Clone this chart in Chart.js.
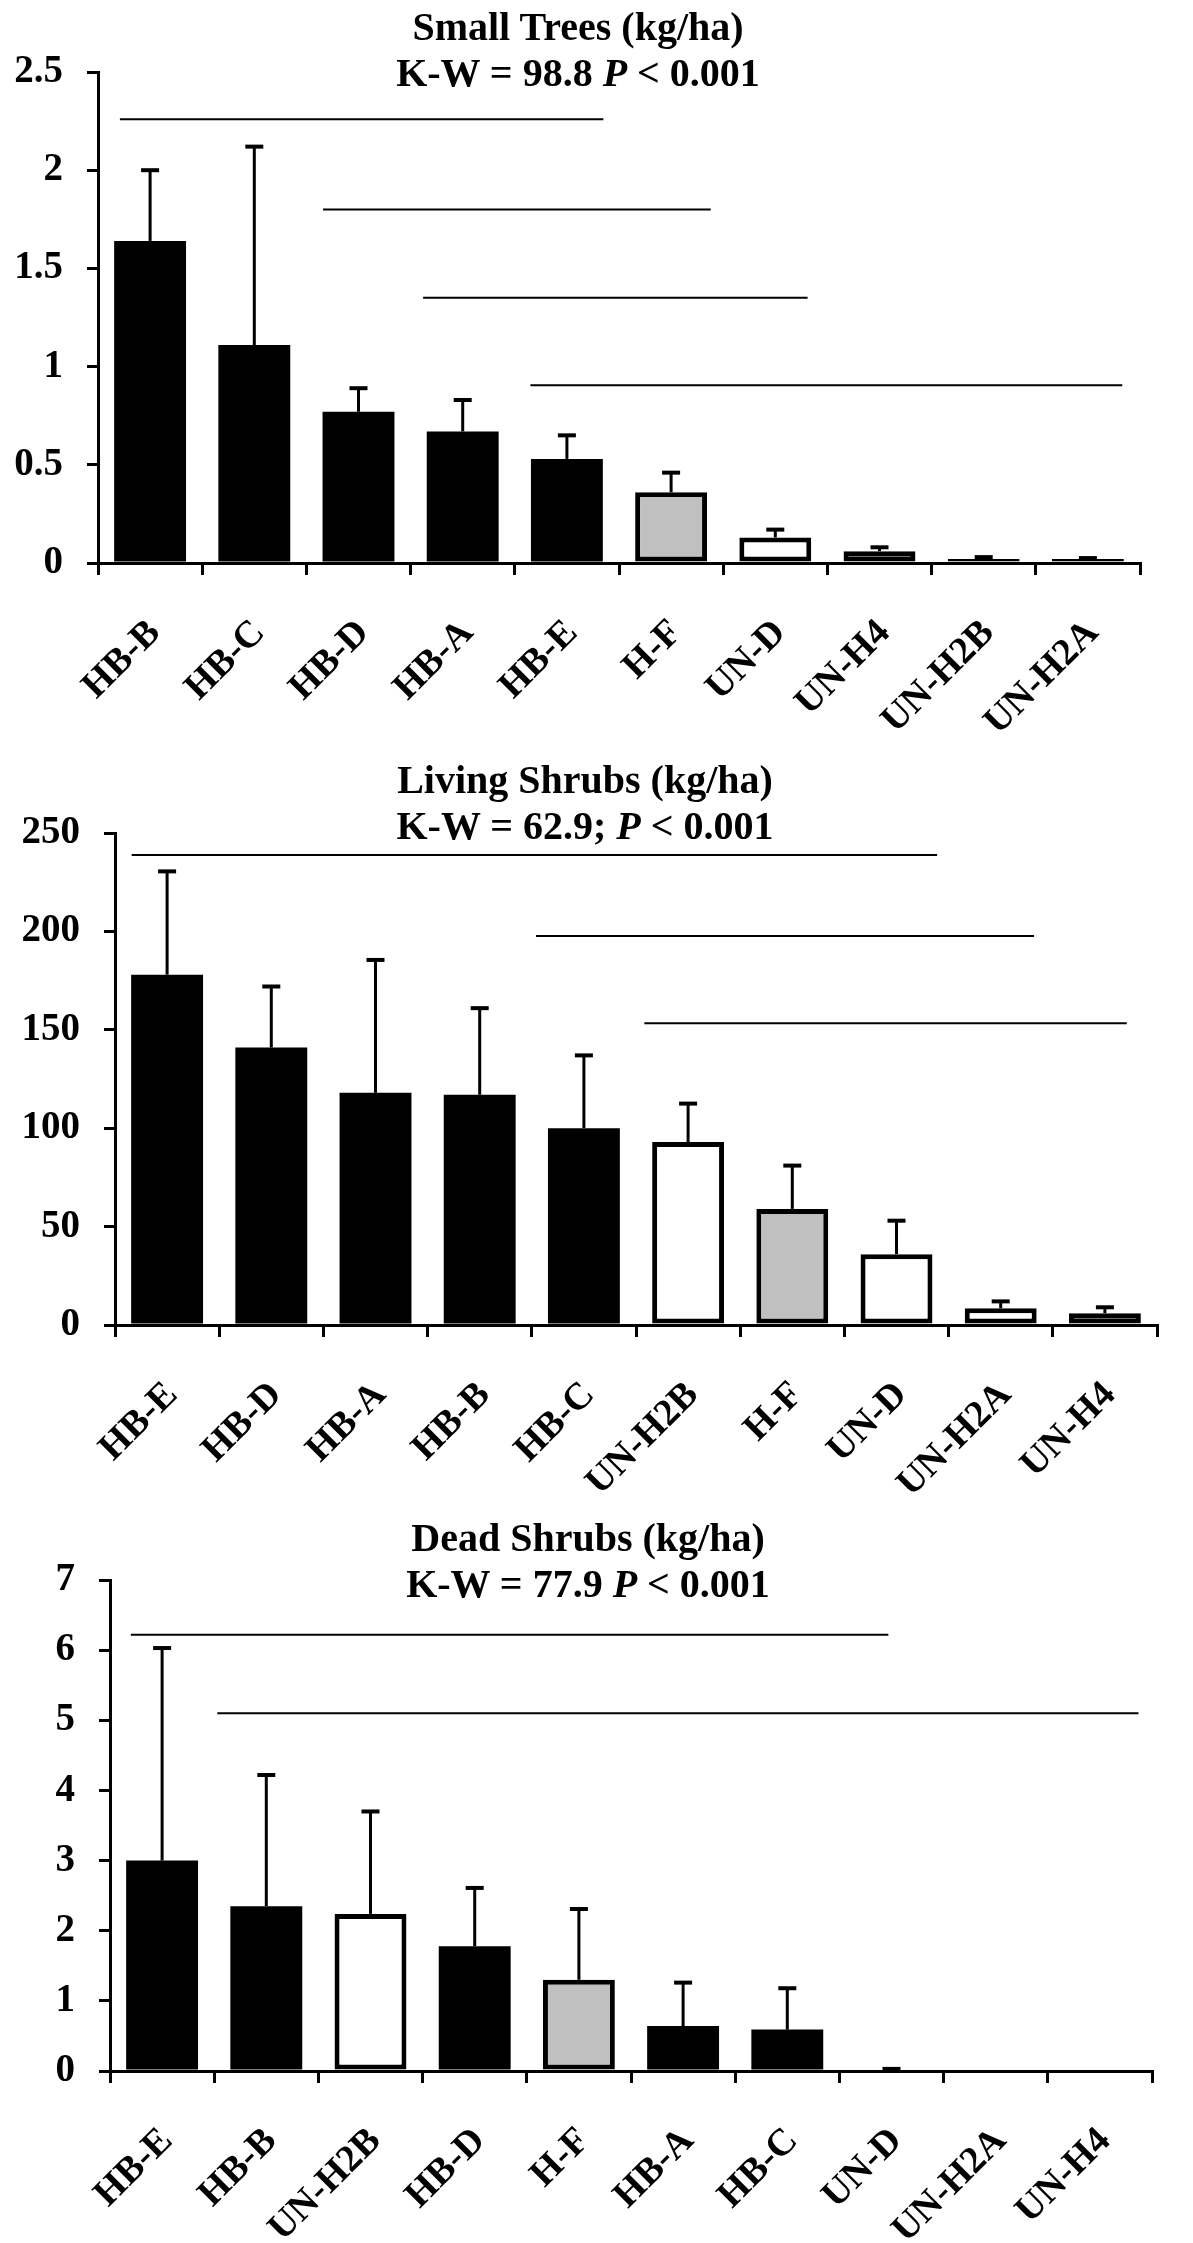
<!DOCTYPE html>
<html>
<head>
<meta charset="utf-8">
<script src="https://cdn.jsdelivr.net/npm/chart.js@4.4.1/dist/chart.umd.min.js"></script>
<style>
  body { margin: 0; background: #fff; width: 1193px; height: 2243px; position: relative; overflow: hidden; }
  .panel { position: absolute; left: 0; width: 1193px; }
  .panel canvas { position: absolute; left: 0; top: 0; }
  .ttl { position: absolute; left: 0; width: 1170px; text-align: center; color: #000;
         font-family: 'Liberation Serif', 'Times New Roman', serif; font-weight: bold;
         font-size: 40px; line-height: 46px; }
</style>
</head>
<body>

<div class="panel" style="top:0px;height:740px">
  <canvas id="treesChart" width="1193" height="740"></canvas>
  <div class="ttl" style="top:4px;width:1156px">Small Trees (kg/ha)<br>K-W = 98.8 <i>P</i> &lt; 0.001</div>
</div>

<div class="panel" style="top:740px;height:760px">
  <canvas id="livingChart" width="1193" height="760"></canvas>
  <div class="ttl" style="top:17px">Living Shrubs (kg/ha)<br>K-W = 62.9; <i>P</i> &lt; 0.001</div>
</div>

<div class="panel" style="top:1500px;height:743px">
  <canvas id="deadChart" width="1193" height="743"></canvas>
  <div class="ttl" style="top:15px;width:1176px">Dead Shrubs (kg/ha)<br>K-W = 77.9 <i>P</i> &lt; 0.001</div>
</div>

<script>
// ---- Small trees ----
const treeSites = ["HB-B", "HB-C", "HB-D", "HB-A", "HB-E", "H-F", "UN-D", "UN-H4", "UN-H2B", "UN-H2A"];
const treeMeans = [1.64, 1.11, 0.77, 0.67, 0.53, 0.36, 0.13, 0.06, 0.02, 0.02];
const treeErrors = [0.36, 1.01, 0.12, 0.16, 0.12, 0.10, 0.04, 0.02, 0.01, 0.005];
const treeTicks = [0, 0.5, 1, 1.5, 2, 2.5];
// homogeneous groups: [from site index, to site index, level]
const treeGroups = [[-0.29, 4.35, 2.26], [1.66, 5.38, 1.80], [2.62, 6.31, 1.35], [3.65, 9.33, 0.905]];

// ---- Living shrubs ----
const livingSites = ["HB-E", "HB-D", "HB-A", "HB-B", "HB-C", "UN-H2B", "H-F", "UN-D", "UN-H2A", "UN-H4"];
const livingMeans = [178, 141, 118, 117, 100, 93, 59, 36, 8.5, 6];
const livingErrors = [52.5, 31, 67.5, 44, 37, 19.5, 22, 17, 3.5, 3];
const livingTicks = [0, 50, 100, 150, 200, 250];
const livingGroups = [[-0.34, 7.39, 238.8], [3.54, 8.32, 197.6], [4.58, 9.21, 153.3]];

// ---- Dead shrubs ----
const deadSites = ["HB-E", "HB-B", "UN-H2B", "HB-D", "H-F", "HB-A", "HB-C", "UN-D", "UN-H2A", "UN-H4"];
const deadMeans = [3.0, 2.35, 2.24, 1.78, 1.30, 0.64, 0.59, 0.02, 0, 0];
const deadErrors = [3.03, 1.87, 1.46, 0.83, 1.01, 0.62, 0.59, 0.01, 0, 0];
const deadTicks = [0, 1, 2, 3, 4, 5, 6, 7];
const deadGroups = [[-0.30, 6.97, 6.22], [0.53, 9.37, 5.10]];

const serif = "'Liberation Serif', 'Times New Roman', serif";

function fillFor(site) {
    if (site.startsWith('HB')) return '#000';
    if (site.startsWith('H-')) return '#c0c0c0';
    return '#fff';
}

// error bars + group lines, placed with the chart's own scales
const extras = {
    id: 'extras',
    afterDatasetsDraw(chart) {
        const ctx = chart.ctx;
        const xScale = chart.scales.x;
        const yScale = chart.scales.y;
        const ds = chart.data.datasets[0];
        const bars = chart.getDatasetMeta(0).data;
        ctx.save();
        ctx.strokeStyle = '#000';

        // horizontal lines joining groups that do not differ
        ctx.lineWidth = 2;
        ds.groups.forEach(function(g) {
            const y = yScale.getPixelForValue(g[2]);
            ctx.beginPath();
            ctx.moveTo(xScale.getPixelForValue(g[0]), y);
            ctx.lineTo(xScale.getPixelForValue(g[1]), y);
            ctx.stroke();
        });

        bars.forEach(function(bar, i) {
            const err = ds.errors[i];
            if (!err) return;
            const top = yScale.getPixelForValue(ds.data[i] + err);
            ctx.lineWidth = 3;
            ctx.beginPath();
            ctx.moveTo(bar.x, bar.y);
            ctx.lineTo(bar.x, top);
            ctx.stroke();
            ctx.lineWidth = 4;
            ctx.beginPath();
            ctx.moveTo(bar.x - 9, top);
            ctx.lineTo(bar.x + 9, top);
            ctx.stroke();
        });
        ctx.restore();
    }
};

function makeChart(canvasId, sites, means, errors, yTicks, groups, box) {
    const canvas = document.getElementById(canvasId);
    return new Chart(canvas, {
        type: 'bar',
        data: {
            labels: sites,
            datasets: [{
                data: means,
                errors: errors,
                groups: groups,
                backgroundColor: sites.map(fillFor),
                borderColor: '#000',
                borderWidth: sites.map(s => s.startsWith('HB') ? 0 : 5),
                borderSkipped: false,
                grouped: false,
                barPercentage: 0.69,
                categoryPercentage: 1.0
            }]
        },
        options: {
            responsive: false,
            animation: false,
            layout: { padding: { left: 0, top: box.top, right: canvas.width - box.right, bottom: 0 } },
            plugins: {
                legend: { display: false },
                tooltip: { enabled: false }
            },
            scales: {
                x: {
                    type: 'category',
                    offset: true,
                    grid: { offset: true, drawOnChartArea: false, drawTicks: true, tickLength: 12, lineWidth: 3, color: '#000' },
                    border: { display: true, color: '#000', width: 3 },
                    ticks: {
                        color: '#000',
                        font: { family: serif, size: 38, weight: 'bold' },
                        minRotation: 45,
                        maxRotation: 45,
                        autoSkip: false,
                        labelOffset: 5,
                        padding: 36
                    },
                    afterFit: function(s) { s.height = canvas.height - box.bottom; }
                },
                y: {
                    min: 0,
                    max: yTicks[yTicks.length - 1],
                    afterBuildTicks: function(s) { s.ticks = yTicks.map(v => ({ value: v })); },
                    grid: { drawOnChartArea: false, drawTicks: true, tickLength: 11, lineWidth: 3, color: '#000' },
                    border: { display: true, color: '#000', width: 3 },
                    ticks: {
                        color: '#000',
                        font: { family: serif, size: 39, weight: 'bold' },
                        padding: 24,
                        callback: function(v) { return String(v); }
                    },
                    afterFit: function(s) { s.width = box.left; }
                }
            }
        },
        plugins: [extras]
    });
}

makeChart('treesChart', treeSites, treeMeans, treeErrors, treeTicks, treeGroups,
    { left: 98, top: 72, right: 1140, bottom: 563 });
makeChart('livingChart', livingSites, livingMeans, livingErrors, livingTicks, livingGroups,
    { left: 115, top: 93, right: 1157, bottom: 585 });
makeChart('deadChart', deadSites, deadMeans, deadErrors, deadTicks, deadGroups,
    { left: 110, top: 80, right: 1152, bottom: 571 });
</script>
</body>
</html>
